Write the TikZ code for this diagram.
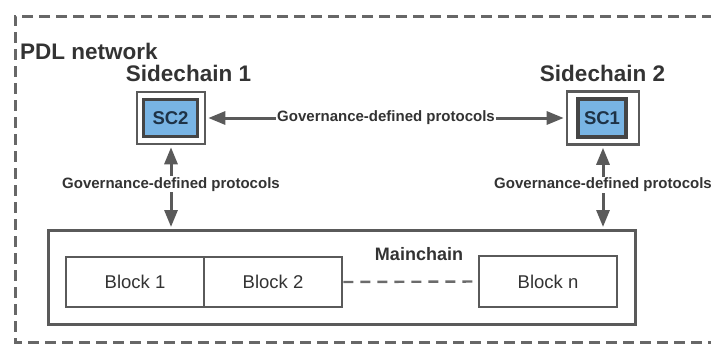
\documentclass[tikz,border=0pt]{standalone}
\usepackage{fontspec}
\setmainfont{Liberation Sans}
\usetikzlibrary{arrows.meta}
\definecolor{linegray}{HTML}{5A5A5A}
\definecolor{framegray}{HTML}{676767}
\definecolor{textgray}{HTML}{333333}
\definecolor{scblue}{HTML}{78B4E4}
\definecolor{scborder}{HTML}{454545}
\definecolor{sctext}{HTML}{1E3246}

\begin{document}
\begin{tikzpicture}[x=1pt,y=-1pt,
  frameline/.style={draw=framegray, line width=3pt, dash pattern=on 11pt off 6pt},
  outerbox/.style={draw=linegray, line width=2.6pt, fill=white, inner sep=0pt},
  innerbox/.style={draw=scborder, line width=3.4pt, fill=scblue, inner sep=0pt,
    text=sctext, font=\fontsize{18.5}{20}\bfseries\selectfont},
  title/.style={text=textgray, font=\fontsize{22.5}{24}\bfseries\selectfont, inner sep=0pt},
  chainbox/.style={draw=linegray, line width=3pt, inner sep=0pt},
  blockbox/.style={draw=linegray, line width=2.8pt, fill=white, inner sep=0pt,
    minimum width=138pt, minimum height=50pt, text=textgray,
    font=\fontsize{18.5}{20}\selectfont},
  link/.style={draw=linegray, line width=3pt,
    {Triangle[length=17pt,width=13pt]}-{Triangle[length=17pt,width=13pt]}},
  linklabel/.style={fill=white, inner sep=1pt, text=textgray,
    font=\fontsize{15}{17}\bfseries\selectfont}]

\useasboundingbox (0,0) rectangle (711,343);

% network boundary (open towards the right)
\coordinate (ftr) at (730,16);
\coordinate (ftl) at (15,16);
\coordinate (fbl) at (15,342);
\coordinate (fbr) at (730,342);
\draw[frameline] (ftr) -- (ftl) -- (fbl) -- (fbr);

\node[title, anchor=base west] (pdl) at (20,59) {PDL network};

% sidechains
\node[title] (sc1title) at (188.5,73) {Sidechain 1};
\node[title] (sc2title) at (602.5,73) {Sidechain 2};

\node[outerbox, minimum width=68pt, minimum height=52pt] (sc2out) at (171,118) {};
\node[innerbox, minimum width=54pt, minimum height=37pt] (sc2in) at (170.5,118) {SC2};

\node[outerbox, minimum width=72pt, minimum height=53pt] (sc1out) at (603,118) {};
\node[innerbox, minimum width=48pt, minimum height=38pt] (sc1in) at (602,118) {SC1};

% mainchain
\node[chainbox, minimum width=587pt, minimum height=94pt] (main) at (341.5,277) {};
\node[text=textgray, font=\fontsize{18}{20}\bfseries\selectfont, inner sep=0pt]
  (mainlabel) at (419,254) {Mainchain};

\node[blockbox] (b1) at (135,282) {Block 1};
\node[blockbox] (b2) at (273,282) {Block 2};
\node[blockbox, minimum height=51pt] (bn) at (548,281.5) {Block n};

\draw[draw=linegray!90, line width=2.4pt, dash pattern=on 10pt off 7pt] (b2.east) -- (bn.west);

% governance links
\draw[link, shorten <=2pt, shorten >=2pt] (sc2out.east) -- (sc1out.west)
  node[linklabel, midway] (hlabel) {Governance-defined protocols};

\draw[link, shorten <=2pt, shorten >=1.5pt] (sc2out.south) -- (sc2out.south |- main.north)
  node[linklabel, pos=0.47] (llabel) {Governance-defined protocols};

\draw[link, shorten <=2pt, shorten >=1.5pt] (sc1out.south) -- (sc1out.south |- main.north)
  node[linklabel, pos=0.47] (rlabel) {Governance-defined protocols};

\end{tikzpicture}
\end{document}
